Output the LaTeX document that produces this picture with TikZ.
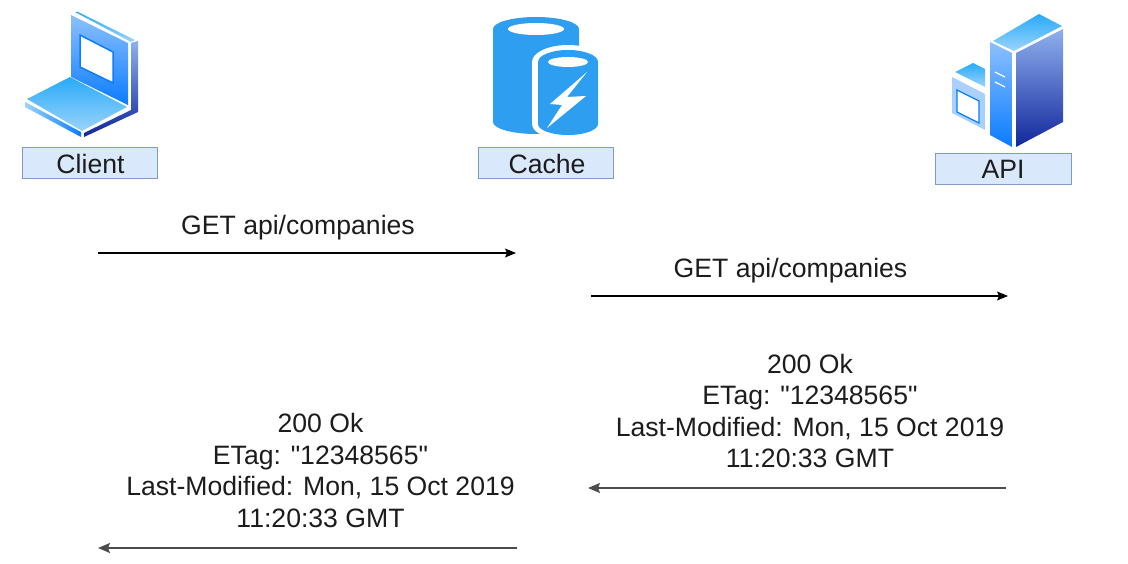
\documentclass[tikz,border=0pt]{standalone}
\usepackage{fontspec}
\newfontfamily\labelfont{Liberation Sans}
\usetikzlibrary{arrows.meta}
\definecolor{cacheblue}{HTML}{2E9FF0}
\definecolor{lblfill}{HTML}{DAE8FC}
\definecolor{lbldraw}{HTML}{7F9CC8}
\definecolor{txt}{HTML}{1C1C1C}
\definecolor{sky}{HTML}{29AAF8}
\definecolor{pale}{HTML}{9AD4FC}
\definecolor{vivid}{HTML}{0A7CFF}
\definecolor{lightb}{HTML}{8CC0FF}
\definecolor{navy}{HTML}{10279C}
\definecolor{wash}{HTML}{8FB0EE}
\tikzset{
  lbl/.style={draw=lbldraw,line width=1pt,fill=lblfill,minimum width=135pt,minimum height=31pt,inner sep=0pt,font=\labelfont\fontsize{26.6}{26.6}\selectfont,text=txt},
  msg/.style={align=center,inner sep=0pt,font=\labelfont\fontsize{26.6}{31.4}\selectfont,text=txt},
  reqline/.style={draw=black,line width=1.1pt,-{Stealth[length=11pt,width=9pt,inset=2pt]}},
  respline/.style={draw=black!70,line width=1.4pt,-{Stealth[length=12pt,width=10pt,inset=2pt]}}
}
\begin{document}
\begin{tikzpicture}[x=1pt,y=-1pt]
\useasboundingbox (0,0) rectangle (1128,564);
% client icon
\shade[top color=sky,bottom color=pale] (75,12)--(78,12)--(135,40)--(131,42)--cycle;
\shade[top color=lightb,bottom color=vivid] (71,15)--(128,43)--(128,105)--(71,77)--cycle;
\fill[white] (80,35)--(113,52)--(113,83)--(80,67)--cycle;
\draw[vivid,line width=1.5pt] (80,35)--(113,52)--(113,83)--(80,67)--cycle;
\shade[top color=wash,bottom color=navy] (131,43)--(138,41)--(138,112)--(84,137)--(84,133)--(131,110)--cycle;
\shade[top color=sky,bottom color=pale] (27,99)--(70,77)--(127,107)--(82,131)--cycle;
\shade[left color=pale,right color=vivid] (25,102)--(81,132)--(81,137)--(25,107)--cycle;
\node[lbl] (client) at (89.5,163.5) {\hspace{2pt}Client};
% cache icon
\fill[cacheblue] (493,29) arc[x radius=43,y radius=12,start angle=180,end angle=360]
  -- (579,122) arc[x radius=43,y radius=12,start angle=0,end angle=180] -- cycle;
\fill[white] (536,29) ellipse[x radius=28,y radius=6];
\fill[white] (532,62) arc[x radius=36,y radius=17,start angle=180,end angle=360]
  -- (604,124) arc[x radius=36,y radius=16,start angle=0,end angle=180] -- cycle;
\fill[cacheblue] (538,62) arc[x radius=30,y radius=12,start angle=180,end angle=360]
  -- (598,124) arc[x radius=30,y radius=11,start angle=0,end angle=180] -- cycle;
\fill[white] (568,62) ellipse[x radius=20,y radius=5];
\fill[white] (587,72)--(567,97)--(586,96)--(547,128)--(562,105)--(550,104)--cycle;
\node[lbl] (cache) at (545.5,163.5) {\hspace{3pt}Cache};
% api icon
\shade[top color=sky,bottom color=pale] (993,41)--(1039,14)--(1062,26)--(1014,51)--cycle;
\shade[top color=lightb,bottom color=vivid] (990,42)--(1012,53)--(1012,147)--(990,135)--cycle;
\shade[top color=wash,bottom color=navy] (1016,53)--(1063,29)--(1063,122)--(1016,147)--cycle;
\draw[white,line width=1.2pt] (995,72)--(1005,77) (995,82)--(1005,87);
\shade[top color=sky,bottom color=pale] (955,72)--(973,63)--(985,69)--(985,87)--cycle;
\fill[lightb!75!white] (952,77)--(985,94)--(985,130)--(952,113)--cycle;
\fill[white,draw=vivid,line width=1.2pt] (957,90)--(979,101)--(979,123)--(957,112)--cycle;
\node[lbl,minimum width=136pt] (api) at (1003,169.5) {API\hspace{3pt}};
% messages
\node[msg] (m1) at (298,228) {GET api/companies};
\node[msg] (m2) at (790.5,271) {GET api/companies};
\node[msg] (m3) at (810,411) {200 Ok\\ETag: "12348565"\\Last-Modified: Mon, 15 Oct 2019\\11:20:33 GMT};
\node[msg] (m4) at (320.5,470.5) {200 Ok\\ETag: "12348565"\\Last-Modified: Mon, 15 Oct 2019\\11:20:33 GMT};
\coordinate (a1) at (98,253); \coordinate (b1) at (516,253);
\coordinate (a2) at (591,296); \coordinate (b2) at (1008,296);
\coordinate (a3) at (1006,488); \coordinate (b3) at (588,488);
\coordinate (a4) at (517,548); \coordinate (b4) at (98,548);
\draw[reqline] (a1)--(b1);
\draw[reqline] (a2)--(b2);
\draw[respline] (a3)--(b3);
\draw[respline] (a4)--(b4);
\end{tikzpicture}
\end{document}
